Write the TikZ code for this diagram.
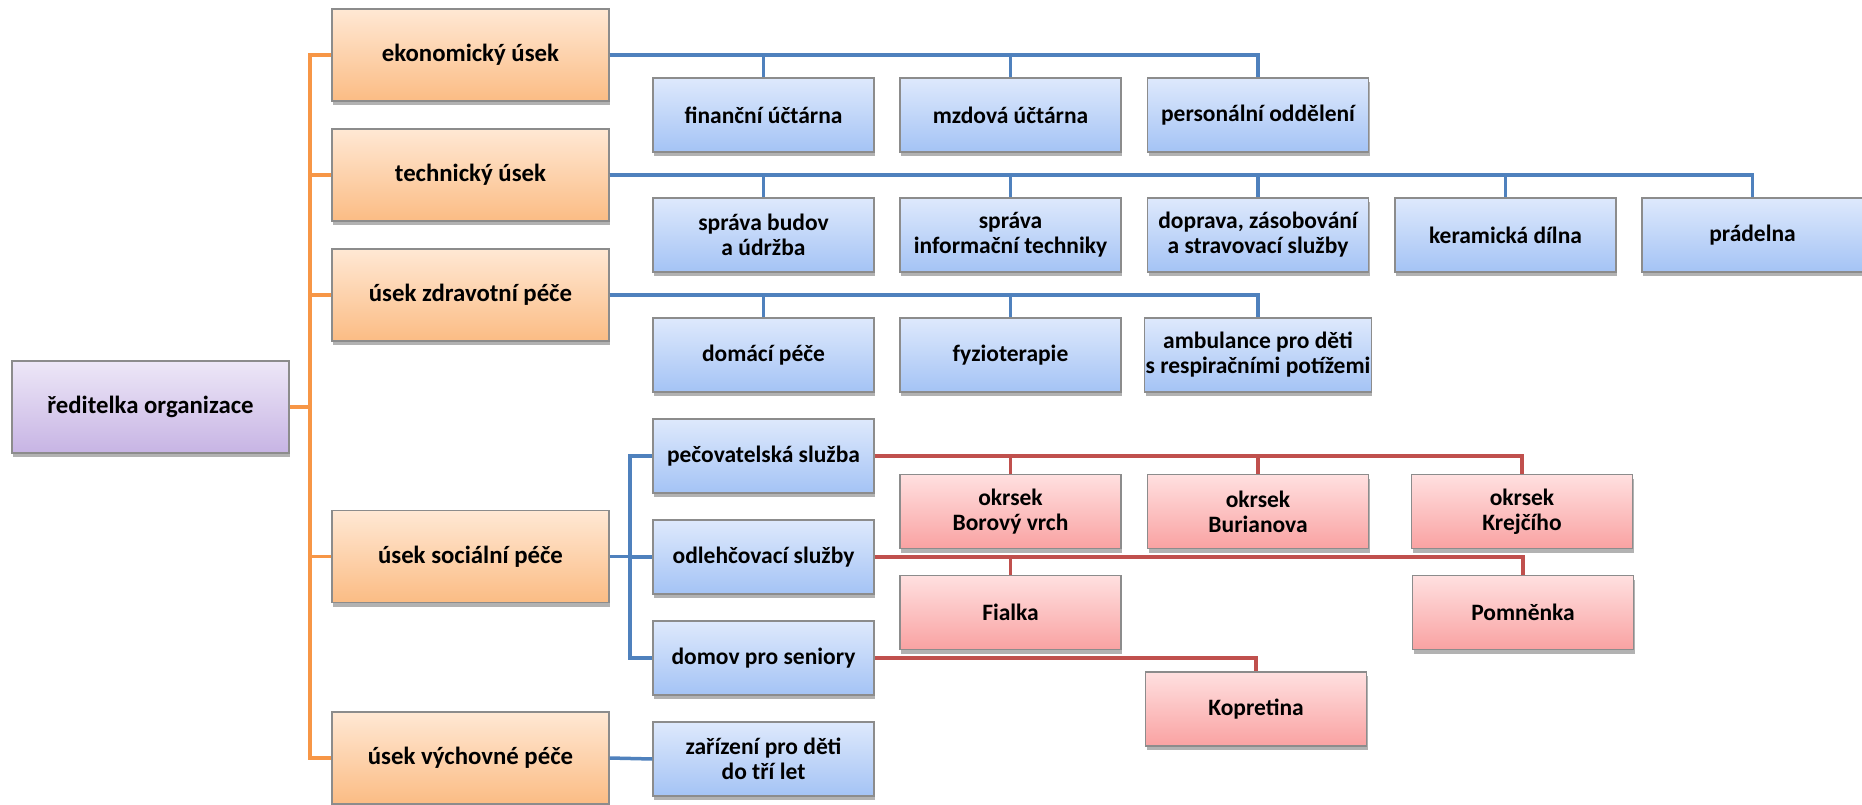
\documentclass[tikz,border=0pt]{standalone}
\usepackage{fontspec}
\setmainfont{Carlito}
\usetikzlibrary{shadows}
\definecolor{oTop}{RGB}{255,232,212}
\definecolor{oBot}{RGB}{251,188,132}
\definecolor{bTop}{RGB}{222,233,252}
\definecolor{bBot}{RGB}{164,195,245}
\definecolor{rTop}{RGB}{255,224,224}
\definecolor{rBot}{RGB}{249,162,162}
\definecolor{pTop}{RGB}{237,231,247}
\definecolor{pBot}{RGB}{199,180,228}
\definecolor{boxgray}{RGB}{140,140,140}
\definecolor{lineO}{RGB}{247,150,70}
\definecolor{lineB}{RGB}{79,129,189}
\definecolor{lineR}{RGB}{192,80,77}
\tikzset{
  box/.style={draw=boxgray, line width=1.2pt, minimum width=221pt, minimum height=74pt,
    inner sep=1pt, align=center, text=black,
    font=\bfseries\fontsize{23.5}{25}\selectfont,
    drop shadow={shadow xshift=1pt, shadow yshift=-4pt, opacity=0.3, fill=black}},
  bigbox/.style={box, minimum width=277pt, minimum height=92pt,
    font=\bfseries\fontsize{24.8}{27}\selectfont},
  obox/.style={bigbox, top color=oTop, bottom color=oBot},
  pbox/.style={bigbox, top color=pTop, bottom color=pBot},
  bbox/.style={box, top color=bTop, bottom color=bBot},
  rbox/.style={box, top color=rTop, bottom color=rBot},
  oline/.style={draw=lineO, line width=3.5pt},
  bline/.style={draw=lineB, line width=3.5pt},
  rline/.style={draw=lineR, line width=3.5pt}
}
\begin{document}
\begin{tikzpicture}[x=1pt,y=-1pt]
\useasboundingbox[fill=white] (0,0) rectangle (1862,805);
\coordinate (ob) at (310,407);
\coordinate (sb) at (630,556.5);
\node[pbox] (dir) at (150.5,407) {ředitelka organizace};
\node[obox] (eko) at (470.5,55) {ekonomický úsek};
\node[obox] (tech) at (470.5,175) {technický úsek};
\node[obox] (zdr) at (470.5,295) {úsek zdravotní péče};
\node[obox] (soc) at (470.5,556.5) {úsek sociální péče};
\node[obox] (vych) at (470.5,758) {úsek výchovné péče};
% level 2 blue
\node[bbox] (fin) at (763.5,115) {finanční účtárna};
\node[bbox] (mzd) at (1010.5,115) {mzdová účtárna};
\node[bbox] (pers) at (1258,115) {personální oddělení};
\node[bbox] (bud) at (763.5,235) {správa budov\\a údržba};
\node[bbox] (inf) at (1010.5,235) {správa\\informační techniky};
\node[bbox] (dop) at (1258,235) {doprava, zásobování\\a stravovací služby};
\node[bbox] (ker) at (1505.5,235) {keramická dílna};
\node[bbox] (pra) at (1752.5,235) {prádelna};
\node[bbox] (dom) at (763.5,355) {domácí péče};
\node[bbox] (fyz) at (1010.5,355) {fyzioterapie};
\node[bbox] (amb) at (1258,355) {ambulance pro děti\\s respiračními potížemi};
\node[bbox] (pec) at (763.5,456) {pečovatelská služba};
\node[bbox] (odl) at (763.5,557) {odlehčovací služby};
\node[bbox] (sen) at (763.5,658) {domov pro seniory};
\node[bbox] (zar) at (763.5,759) {zařízení pro děti\\do tří let};
% level 3 red
\node[rbox] (bor) at (1010.5,511.5) {okrsek\\Borový vrch};
\node[rbox] (bur) at (1258,511.5) {okrsek\\Burianova};
\node[rbox] (kre) at (1522,511.5) {okrsek\\Krejčího};
\node[rbox] (fia) at (1010.5,612.5) {Fialka};
\node[rbox] (pom) at (1523,612.5) {Pomněnka};
\node[rbox] (kop) at (1256,709) {Kopretina};
% orange connectors
\draw[oline] (dir.east) -- (ob);
\foreach \n in {eko,tech,zdr,soc,vych} \draw[oline] (ob) |- (\n.west);
% blue connectors
\foreach \n in {fin,mzd,pers} \draw[bline] (eko.east) -| (\n.north);
\foreach \n in {bud,inf,dop,ker,pra} \draw[bline] (tech.east) -| (\n.north);
\foreach \n in {dom,fyz,amb} \draw[bline] (zdr.east) -| (\n.north);
\draw[bline] (soc.east) -- (sb);
\foreach \n in {pec,odl,sen} \draw[bline] (sb) |- (\n.west);
\draw[bline] (vych.east) -- (zar.west);
% red connectors
\foreach \n in {bor,bur,kre} \draw[rline] (pec.east) -| (\n.north);
\foreach \n in {fia,pom} \draw[rline] (odl.east) -| (\n.north);
\draw[rline] (sen.east) -| (kop.north);
\end{tikzpicture}
\end{document}
